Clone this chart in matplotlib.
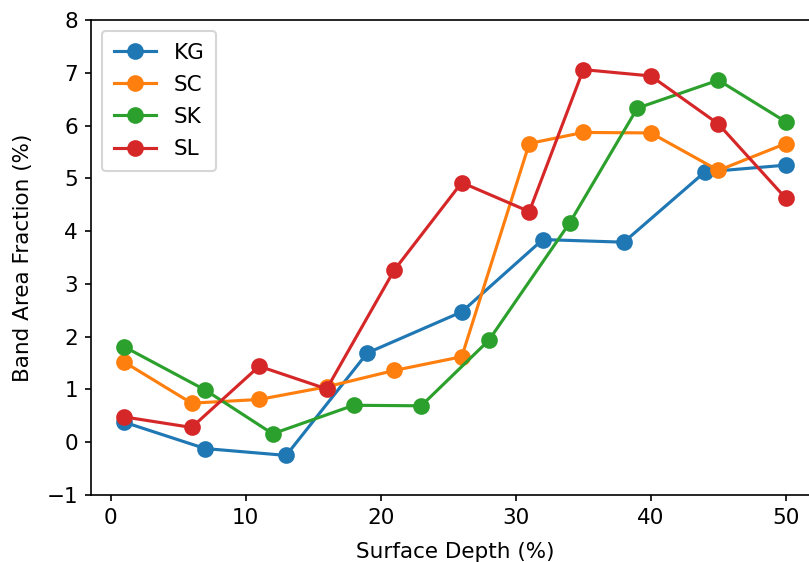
# **** imports ****
import matplotlib
matplotlib.use('Agg')                        # no display
import matplotlib.pyplot as plt              # for plotting


# **** data ****
kg_x = [1, 7, 13, 19, 26, 32, 38, 44, 50]
kg_y = [0.38, -0.12, -0.25, 1.69, 2.47, 3.84, 3.79, 5.12, 5.25]

sc_x = [1, 6, 11, 16, 21, 26, 31, 35, 40, 45, 50]
sc_y = [1.52, 0.74, 0.81, 1.05, 1.36, 1.62, 5.66, 5.87, 5.86, 5.15, 5.66]

sk_x = [1, 7, 12, 18, 23, 28, 34, 39, 45, 50]
sk_y = [1.81, 0.99, 0.16, 0.70, 0.69, 1.93, 4.16, 6.33, 6.86, 6.07]

sl_x = [1, 6, 11, 16, 21, 26, 31, 35, 40, 45, 50]
sl_y = [0.48, 0.28, 1.44, 1.01, 3.26, 4.92, 4.37, 7.06, 6.94, 6.03, 4.62]

series = [('KG', kg_x, kg_y),
          ('SC', sc_x, sc_y),
          ('SK', sk_x, sk_y),
          ('SL', sl_x, sl_y)]

# **** sizes scaled to the reference ****
DPI = 150
plt.rcParams['font.size'] = 10.3
plt.rcParams['xtick.major.size'] = 2.8
plt.rcParams['ytick.major.size'] = 2.8

fig = plt.figure(figsize=(809 / DPI, 562 / DPI), dpi=DPI)

# axes run past the right edge like in the cropped reference
ax = fig.add_axes([91 / 809, 67 / 562, 728 / 809, 475 / 562])

# **** plot each series ****
for name, xs, ys in series:
    ax.plot(xs, ys, marker='o', markersize=7, linewidth=1.5, label=name)

ax.set_ylim(-1, 8)
ax.set_xlabel('Surface Depth (%)', labelpad=6.5)
ax.set_ylabel('Band Area Fraction (%)', labelpad=6.5)
ax.legend(loc='upper left', labelspacing=0.57, borderpad=0.55)

fig.savefig('out.png', dpi=DPI)
